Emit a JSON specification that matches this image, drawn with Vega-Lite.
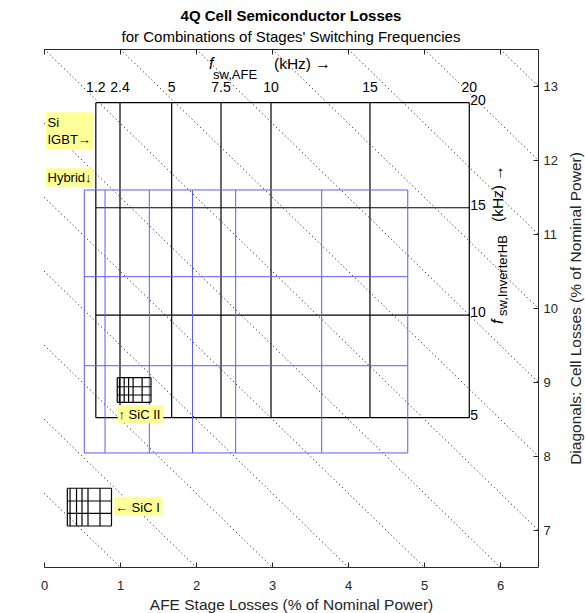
{
  "$schema": "https://vega.github.io/schema/vega-lite/v6.json",
  "width": 494,
  "height": 518,
  "autosize": {"type": "none"},
  "padding": {"left": 44, "top": 49, "right": 47, "bottom": 46},
  "title": {
    "text": "4Q Cell Semiconductor Losses",
    "subtitle": "for Combinations of Stages' Switching Frequencies",
    "font": "Liberation Sans",
    "fontSize": 15,
    "fontWeight": "bold",
    "color": "#000000",
    "subtitleFont": "Liberation Sans",
    "subtitleFontSize": 15,
    "subtitleColor": "#000000",
    "subtitlePadding": 6,
    "anchor": "middle",
    "offset": 4
  },
  "config": {
    "view": {"stroke": null},
    "font": "Liberation Sans",
    "axis": {
      "domainColor": "#262626",
      "tickColor": "#262626",
      "labelColor": "#262626",
      "titleColor": "#262626",
      "labelFontSize": 13,
      "titleFontSize": 15.5,
      "titleFontWeight": "normal",
      "tickSize": -5,
      "labelFlush": false,
      "labelOverlap": false,
      "grid": false,
      "domainWidth": 1,
      "tickWidth": 1
    }
  },
  "datasets": {
    "diagonals": [
      {"c": 1, "x": 0, "y": 1, "x2": 1, "y2": 0},
      {"c": 2, "x": 0, "y": 2, "x2": 2, "y2": 0},
      {"c": 3, "x": 0, "y": 3, "x2": 3, "y2": 0},
      {"c": 4, "x": 0, "y": 4, "x2": 4, "y2": 0},
      {"c": 5, "x": 0, "y": 5, "x2": 5, "y2": 0},
      {"c": 6, "x": 0, "y": 6, "x2": 6, "y2": 0},
      {"c": 7, "x": 0, "y": 7, "x2": 6.5, "y2": 0.5},
      {"c": 8, "x": 1, "y": 7, "x2": 6.5, "y2": 1.5},
      {"c": 9, "x": 2, "y": 7, "x2": 6.5, "y2": 2.5},
      {"c": 10, "x": 3, "y": 7, "x2": 6.5, "y2": 3.5},
      {"c": 11, "x": 4, "y": 7, "x2": 6.5, "y2": 4.5},
      {"c": 12, "x": 5, "y": 7, "x2": 6.5, "y2": 5.5},
      {"c": 13, "x": 6, "y": 7, "x2": 6.5, "y2": 6.5}
    ],
    "grid": [
      {"tech": "Si IGBT", "x": 0.682, "x2": 0.682, "y": 2.018, "y2": 6.274},
      {"tech": "Si IGBT", "x": 1.0, "x2": 1.0, "y": 2.018, "y2": 6.274},
      {"tech": "Si IGBT", "x": 1.68, "x2": 1.68, "y": 2.018, "y2": 6.274},
      {"tech": "Si IGBT", "x": 2.329, "x2": 2.329, "y": 2.018, "y2": 6.274},
      {"tech": "Si IGBT", "x": 2.987, "x2": 2.987, "y": 2.018, "y2": 6.274},
      {"tech": "Si IGBT", "x": 4.289, "x2": 4.289, "y": 2.018, "y2": 6.274},
      {"tech": "Si IGBT", "x": 5.596, "x2": 5.596, "y": 2.018, "y2": 6.274},
      {"tech": "Si IGBT", "x": 0.682, "x2": 5.596, "y": 2.018, "y2": 2.018},
      {"tech": "Si IGBT", "x": 0.682, "x2": 5.596, "y": 3.405, "y2": 3.405},
      {"tech": "Si IGBT", "x": 0.682, "x2": 5.596, "y": 4.855, "y2": 4.855},
      {"tech": "Si IGBT", "x": 0.682, "x2": 5.596, "y": 6.274, "y2": 6.274},
      {"tech": "Hybrid", "x": 0.53, "x2": 0.53, "y": 1.541, "y2": 5.095},
      {"tech": "Hybrid", "x": 0.803, "x2": 0.803, "y": 1.541, "y2": 5.095},
      {"tech": "Hybrid", "x": 1.386, "x2": 1.386, "y": 1.541, "y2": 5.095},
      {"tech": "Hybrid", "x": 1.954, "x2": 1.954, "y": 1.541, "y2": 5.095},
      {"tech": "Hybrid", "x": 2.522, "x2": 2.522, "y": 1.541, "y2": 5.095},
      {"tech": "Hybrid", "x": 3.654, "x2": 3.654, "y": 1.541, "y2": 5.095},
      {"tech": "Hybrid", "x": 4.786, "x2": 4.786, "y": 1.541, "y2": 5.095},
      {"tech": "Hybrid", "x": 0.53, "x2": 4.786, "y": 1.541, "y2": 1.541},
      {"tech": "Hybrid", "x": 0.53, "x2": 4.786, "y": 2.72, "y2": 2.72},
      {"tech": "Hybrid", "x": 0.53, "x2": 4.786, "y": 3.923, "y2": 3.923},
      {"tech": "Hybrid", "x": 0.53, "x2": 4.786, "y": 5.095, "y2": 5.095},
      {"tech": "SiC I", "x": 0.307, "x2": 0.307, "y": 0.554, "y2": 1.064},
      {"tech": "SiC I", "x": 0.343, "x2": 0.343, "y": 0.554, "y2": 1.064},
      {"tech": "SiC I", "x": 0.428, "x2": 0.428, "y": 0.554, "y2": 1.064},
      {"tech": "SiC I", "x": 0.5, "x2": 0.5, "y": 0.554, "y2": 1.064},
      {"tech": "SiC I", "x": 0.579, "x2": 0.579, "y": 0.554, "y2": 1.064},
      {"tech": "SiC I", "x": 0.737, "x2": 0.737, "y": 0.554, "y2": 1.064},
      {"tech": "SiC I", "x": 0.888, "x2": 0.888, "y": 0.554, "y2": 1.064},
      {"tech": "SiC I", "x": 0.307, "x2": 0.888, "y": 0.554, "y2": 0.554},
      {"tech": "SiC I", "x": 0.307, "x2": 0.888, "y": 0.726, "y2": 0.726},
      {"tech": "SiC I", "x": 0.307, "x2": 0.888, "y": 0.892, "y2": 0.892},
      {"tech": "SiC I", "x": 0.307, "x2": 0.888, "y": 1.064, "y2": 1.064},
      {"tech": "SiC II", "x": 0.964, "x2": 0.964, "y": 2.226, "y2": 2.558},
      {"tech": "SiC II", "x": 0.993, "x2": 0.993, "y": 2.226, "y2": 2.558},
      {"tech": "SiC II", "x": 1.055, "x2": 1.055, "y": 2.226, "y2": 2.558},
      {"tech": "SiC II", "x": 1.113, "x2": 1.113, "y": 2.226, "y2": 2.558},
      {"tech": "SiC II", "x": 1.172, "x2": 1.172, "y": 2.226, "y2": 2.558},
      {"tech": "SiC II", "x": 1.291, "x2": 1.291, "y": 2.226, "y2": 2.558},
      {"tech": "SiC II", "x": 1.408, "x2": 1.408, "y": 2.226, "y2": 2.558},
      {"tech": "SiC II", "x": 0.964, "x2": 1.408, "y": 2.226, "y2": 2.226},
      {"tech": "SiC II", "x": 0.964, "x2": 1.408, "y": 2.324, "y2": 2.324},
      {"tech": "SiC II", "x": 0.964, "x2": 1.408, "y": 2.436, "y2": 2.436},
      {"tech": "SiC II", "x": 0.964, "x2": 1.408, "y": 2.558, "y2": 2.558}
    ],
    "afeLabels": [
      {"t": "1.2", "x": 0.682, "y": 6.274},
      {"t": "2.4", "x": 1.0, "y": 6.274},
      {"t": "5", "x": 1.68, "y": 6.274},
      {"t": "7.5", "x": 2.329, "y": 6.274},
      {"t": "10", "x": 2.987, "y": 6.274},
      {"t": "15", "x": 4.289, "y": 6.274},
      {"t": "20", "x": 5.596, "y": 6.274}
    ],
    "hbLabels": [
      {"t": "20", "x": 5.596, "y": 6.274},
      {"t": "15", "x": 5.596, "y": 4.855},
      {"t": "10", "x": 5.596, "y": 3.405},
      {"t": "5", "x": 5.596, "y": 2.018}
    ],
    "boxes": [
      {"name": "Si IGBT", "x": 0.026, "x2": 0.649, "y": 5.649, "y2": 6.145},
      {"name": "Hybrid", "x": 0.026, "x2": 0.649, "y": 5.139, "y2": 5.388},
      {"name": "SiC I", "x": 0.925, "x2": 1.562, "y": 0.693, "y2": 0.95},
      {"name": "SiC II", "x": 0.97, "x2": 1.57, "y": 1.942, "y2": 2.189}
    ],
    "notes": [
      {"t": "Si", "x": 0.046, "y": 5.95},
      {"t": "IGBT→", "x": 0.046, "y": 5.712},
      {"t": "Hybrid↓", "x": 0.046, "y": 5.199},
      {"t": "← SiC I", "x": 0.934, "y": 0.739},
      {"t": "↑ SiC II", "x": 0.98, "y": 2.0}
    ],
    "cells": [
      {"c": 7}, {"c": 8}, {"c": 9}, {"c": 10}, {"c": 11}, {"c": 12}, {"c": 13}
    ]
  },
  "resolve": {"scale": {"y": "independent"}},
  "layer": [
    {
      "layer": [
        {
          "data": {"name": "diagonals"},
          "mark": {"type": "rule", "color": "#000000", "strokeWidth": 1, "strokeDash": [1, 3]},
          "encoding": {
            "x": {"field": "x", "type": "quantitative", "scale": {"domain": [0, 6.5], "nice": false, "zero": false},
              "axis": {"orient": "bottom", "values": [0, 1, 2, 3, 4, 5, 6], "labelPadding": 17,
                "title": "AFE Stage Losses (% of Nominal Power)", "titleY": 37, "titleBaseline": "middle"}},
            "x2": {"field": "x2"},
            "y": {"field": "y", "type": "quantitative", "scale": {"domain": [0, 7], "nice": false, "zero": false},
              "axis": {"orient": "left", "values": [0, 1, 2, 3, 4, 5, 6, 7], "labelPadding": 12,
                "title": "Inverter HB Stage Losses (% of Nominal Power)", "titleX": -32, "titleY": 259,
                "titleAngle": 270, "titleBaseline": "middle", "titleAlign": "center"}},
            "y2": {"field": "y2"}
          }
        },
        {
          "data": {"name": "grid"},
          "transform": [{"filter": "datum.tech === 'Si IGBT'"}],
          "mark": {"type": "rule", "color": "#000000", "strokeWidth": 1.2},
          "encoding": {
            "x": {"field": "x", "type": "quantitative", "scale": {"domain": [0, 6.5], "nice": false, "zero": false},
              "axis": {"orient": "top", "values": [0, 1, 2, 3, 4, 5, 6], "labels": false, "title": null}},
            "x2": {"field": "x2"},
            "y": {"field": "y", "type": "quantitative", "scale": {"domain": [0, 7], "nice": false, "zero": false}, "axis": null},
            "y2": {"field": "y2"}
          }
        },
        {
          "data": {"name": "grid"},
          "transform": [{"filter": "datum.tech === 'Hybrid'"}],
          "mark": {"type": "rule", "color": "#5c5cff", "strokeWidth": 1},
          "encoding": {
            "x": {"field": "x", "type": "quantitative", "scale": {"domain": [0, 6.5], "nice": false, "zero": false}, "axis": null},
            "x2": {"field": "x2"},
            "y": {"field": "y", "type": "quantitative", "scale": {"domain": [0, 7], "nice": false, "zero": false}, "axis": null},
            "y2": {"field": "y2"}
          }
        },
        {
          "data": {"name": "grid"},
          "transform": [{"filter": "datum.tech === 'SiC I' || datum.tech === 'SiC II'"}],
          "mark": {"type": "rule", "color": "#000000", "strokeWidth": 1.2},
          "encoding": {
            "x": {"field": "x", "type": "quantitative", "scale": {"domain": [0, 6.5], "nice": false, "zero": false}, "axis": null},
            "x2": {"field": "x2"},
            "y": {"field": "y", "type": "quantitative", "scale": {"domain": [0, 7], "nice": false, "zero": false}, "axis": null},
            "y2": {"field": "y2"}
          }
        },
        {
          "data": {"name": "boxes"},
          "mark": {"type": "rect", "fill": "#ffff99", "stroke": null},
          "encoding": {
            "x": {"field": "x", "type": "quantitative", "scale": {"domain": [0, 6.5], "nice": false, "zero": false}, "axis": null},
            "x2": {"field": "x2"},
            "y": {"field": "y", "type": "quantitative", "scale": {"domain": [0, 7], "nice": false, "zero": false}, "axis": null},
            "y2": {"field": "y2"}
          }
        },
        {
          "data": {"name": "notes"},
          "mark": {"type": "text", "align": "left", "baseline": "alphabetic", "fontSize": 13, "color": "#000000"},
          "encoding": {
            "x": {"field": "x", "type": "quantitative", "scale": {"domain": [0, 6.5], "nice": false, "zero": false}, "axis": null},
            "y": {"field": "y", "type": "quantitative", "scale": {"domain": [0, 7], "nice": false, "zero": false}, "axis": null},
            "text": {"field": "t"}
          }
        },
        {
          "data": {"name": "afeLabels"},
          "mark": {"type": "text", "align": "center", "baseline": "alphabetic", "fontSize": 14, "dy": -11, "color": "#000000"},
          "encoding": {
            "x": {"field": "x", "type": "quantitative", "scale": {"domain": [0, 6.5], "nice": false, "zero": false}, "axis": null},
            "y": {"field": "y", "type": "quantitative", "scale": {"domain": [0, 7], "nice": false, "zero": false}, "axis": null},
            "text": {"field": "t"}
          }
        },
        {
          "data": {"name": "hbLabels"},
          "mark": {"type": "text", "align": "left", "baseline": "middle", "fontSize": 14, "dx": 1, "dy": -2, "color": "#000000"},
          "encoding": {
            "x": {"field": "x", "type": "quantitative", "scale": {"domain": [0, 6.5], "nice": false, "zero": false}, "axis": null},
            "y": {"field": "y", "type": "quantitative", "scale": {"domain": [0, 7], "nice": false, "zero": false}, "axis": null},
            "text": {"field": "t"}
          }
        },
        {
          "data": {"values": [{"t": "f", "x": 2.171, "y": 6.73}]},
          "mark": {"type": "text", "align": "left", "baseline": "alphabetic", "fontSize": 16, "fontStyle": "italic", "color": "#000000"},
          "encoding": {
            "x": {"field": "x", "type": "quantitative", "scale": {"domain": [0, 6.5], "nice": false, "zero": false}, "axis": null},
            "y": {"field": "y", "type": "quantitative", "scale": {"domain": [0, 7], "nice": false, "zero": false}, "axis": null},
            "text": {"field": "t"}
          }
        },
        {
          "data": {"values": [{"t": "(kHz) →", "x": 3.026, "y": 6.73}]},
          "mark": {"type": "text", "align": "left", "baseline": "alphabetic", "fontSize": 15.5, "color": "#000000"},
          "encoding": {
            "x": {"field": "x", "type": "quantitative", "scale": {"domain": [0, 6.5], "nice": false, "zero": false}, "axis": null},
            "y": {"field": "y", "type": "quantitative", "scale": {"domain": [0, 7], "nice": false, "zero": false}, "axis": null},
            "text": {"field": "t"}
          }
        },
        {
          "data": {"values": [{"t": "sw,AFE", "x": 2.224, "y": 6.59}]},
          "mark": {"type": "text", "align": "left", "baseline": "alphabetic", "fontSize": 13, "color": "#000000"},
          "encoding": {
            "x": {"field": "x", "type": "quantitative", "scale": {"domain": [0, 6.5], "nice": false, "zero": false}, "axis": null},
            "y": {"field": "y", "type": "quantitative", "scale": {"domain": [0, 7], "nice": false, "zero": false}, "axis": null},
            "text": {"field": "t"}
          }
        },
        {
          "data": {"values": [{"t": "f", "x": 6.039, "y": 3.284}]},
          "mark": {"type": "text", "align": "left", "baseline": "alphabetic", "angle": 270, "fontSize": 16, "fontStyle": "italic", "color": "#000000"},
          "encoding": {
            "x": {"field": "x", "type": "quantitative", "scale": {"domain": [0, 6.5], "nice": false, "zero": false}, "axis": null},
            "y": {"field": "y", "type": "quantitative", "scale": {"domain": [0, 7], "nice": false, "zero": false}, "axis": null},
            "text": {"field": "t"}
          }
        },
        {
          "data": {"values": [{"t": "(kHz) →", "x": 6.039, "y": 4.662}]},
          "mark": {"type": "text", "align": "left", "baseline": "alphabetic", "angle": 270, "fontSize": 15.5, "color": "#000000"},
          "encoding": {
            "x": {"field": "x", "type": "quantitative", "scale": {"domain": [0, 6.5], "nice": false, "zero": false}, "axis": null},
            "y": {"field": "y", "type": "quantitative", "scale": {"domain": [0, 7], "nice": false, "zero": false}, "axis": null},
            "text": {"field": "t"}
          }
        },
        {
          "data": {"values": [{"t": "sw,InverterHB", "x": 6.092, "y": 3.392}]},
          "mark": {"type": "text", "align": "left", "baseline": "alphabetic", "angle": 270, "fontSize": 13, "color": "#000000"},
          "encoding": {
            "x": {"field": "x", "type": "quantitative", "scale": {"domain": [0, 6.5], "nice": false, "zero": false}, "axis": null},
            "y": {"field": "y", "type": "quantitative", "scale": {"domain": [0, 7], "nice": false, "zero": false}, "axis": null},
            "text": {"field": "t"}
          }
        }
      ]
    },
    {
      "data": {"name": "cells"},
      "mark": {"type": "point", "opacity": 0},
      "encoding": {
        "y": {"field": "c", "type": "quantitative", "scale": {"domain": [6.5, 13.5], "nice": false, "zero": false},
          "axis": {"orient": "right", "values": [7, 8, 9, 10, 11, 12, 13], "labelPadding": 10,
            "title": "Diagonals: Cell Losses (% of Nominal Power)", "titleX": 37, "titleY": 259,
            "titleAngle": 270, "titleBaseline": "middle", "titleAlign": "center"}}
      }
    }
  ]
}
